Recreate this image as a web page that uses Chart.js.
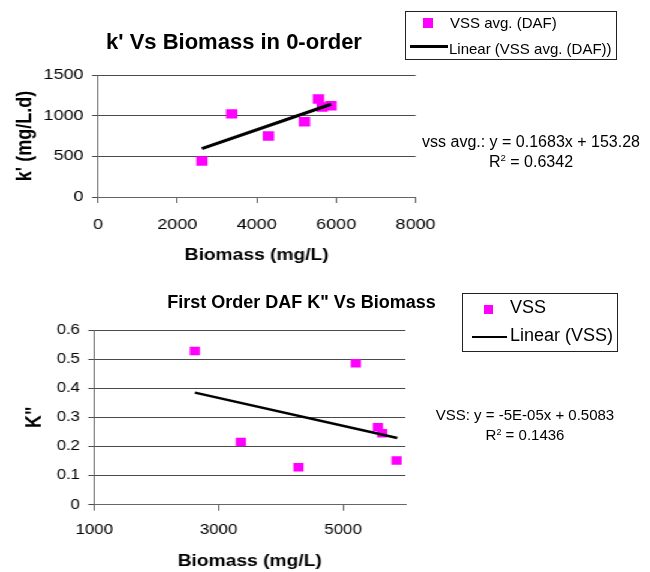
<!DOCTYPE html>
<html>
<head>
<meta charset="utf-8">
<script src="https://cdn.jsdelivr.net/npm/chart.js@4.4.1/dist/chart.umd.min.js"></script>
<style>
  html, body { margin: 0; padding: 0; background: #fff; }
  body { width: 650px; height: 572px; position: relative; overflow: hidden;
         font-family: "Liberation Sans", Arial, sans-serif; color: #000; }
  /* the original picture is stretched sideways, so the plots are drawn narrow and widened */
  #stretch { position: absolute; left: 0; top: 0; width: 542px; height: 572px;
             transform: scaleX(1.19926); transform-origin: 0 0; }
  .box { position: absolute; left: 0; width: 542px; }
  .t { position: absolute; white-space: nowrap; line-height: 1; }
  .c { transform: translateX(-50%); }
  .legend { position: absolute; border: 1px solid #222; box-sizing: border-box; }
  .mk { position: absolute; background: #ff00ff; }
  .ln { position: absolute; background: #000; }
  sup { font-size: 0.6em; line-height: 0; vertical-align: 0.6em; }
</style>
</head>
<body>
<div id="stretch">
  <div class="box" style="top:0;height:280px"><canvas id="c1"></canvas></div>
  <div class="box" style="top:280px;height:292px"><canvas id="c2"></canvas></div>
</div>

<div class="t c" id="title1" style="left:234px;top:30.7px;font-size:22px;font-weight:bold"></div>
<div class="legend" style="left:405px;top:11px;width:212px;height:49px"></div>
<div class="mk" style="left:423px;top:18px;width:10px;height:10px"></div>
<div class="t" id="leg1a" style="left:450px;top:15.3px;font-size:15px"></div>
<div class="ln" style="left:410px;top:44.5px;width:38px;height:3px"></div>
<div class="t" id="leg1b" style="left:449px;top:40.6px;font-size:15px"></div>
<div class="t c" id="eq1a" style="left:531px;top:133.5px;font-size:16px"></div>
<div class="t c" id="eq1b" style="left:531px;top:153.5px;font-size:16px"></div>

<div class="t c" id="title2" style="left:301.5px;top:293.1px;font-size:18px;font-weight:bold"></div>
<div class="legend" style="left:462px;top:293px;width:156px;height:59px"></div>
<div class="mk" style="left:484px;top:305px;width:9px;height:9px"></div>
<div class="t" id="leg2a" style="left:510px;top:298.1px;font-size:18px"></div>
<div class="ln" style="left:472px;top:335.5px;width:35px;height:2.5px"></div>
<div class="t" id="leg2b" style="left:510px;top:325.8px;font-size:18px"></div>
<div class="t c" id="eq2a" style="left:525px;top:406.6px;font-size:15px"></div>
<div class="t c" id="eq2b" style="left:525px;top:427.3px;font-size:15px"></div>

<script>
// ---- top chart: k' vs biomass (0-order) ----
const TITLE_1 = "k' Vs Biomass in 0-order";
const X_LABEL_1 = "Biomass (mg/L)";
const Y_LABEL_1 = "k' (mg/L.d)";
const SERIES_1 = "VSS avg. (DAF)";
const TREND_LABEL_1 = "Linear (VSS avg. (DAF))";
const EQ_1 = "vss avg.: y = 0.1683x + 153.28";
const R2_1 = "0.6342";
const biomass1 = [2620, 3370, 4294, 5202, 5555, 5650, 5870];
const kPrime1 = [443, 1022, 751, 924, 1205, 1106, 1122];
const trendX1 = [2620, 5870];
const trendY1 = [595, 1140];
const xTicks1 = [0, 2000, 4000, 6000, 8000];
const yTicks1 = [0, 500, 1000, 1500];

// ---- bottom chart: first order K" vs biomass ----
const TITLE_2 = 'First Order DAF K" Vs Biomass';
const X_LABEL_2 = "Biomass (mg/L)";
const Y_LABEL_2 = 'K"';
const SERIES_2 = "VSS";
const TREND_LABEL_2 = "Linear (VSS)";
const EQ_2 = "VSS: y = -5E-05x + 0.5083";
const R2_2 = "0.1436";
const biomass2 = [2618, 3357, 4283, 5204, 5558, 5627, 5858];
const kSecond2 = [0.528, 0.215, 0.129, 0.486, 0.266, 0.245, 0.152];
const trendX2 = [2620, 5870];
const trendY2 = [0.385, 0.229];
const xTicks2 = [1000, 3000, 5000];
const yTicks2 = [0, 0.1, 0.2, 0.3, 0.4, 0.5, 0.6];

const FONT = "'Liberation Sans', Arial, sans-serif";

function setText(id, s) { document.getElementById(id).textContent = s; }
function setR2(id, v) {
    const el = document.getElementById(id);
    el.innerHTML = "R<sup>2</sup> = ";
    el.appendChild(document.createTextNode(v));
}

setText("title1", TITLE_1);
setText("leg1a", SERIES_1);
setText("leg1b", TREND_LABEL_1);
setText("eq1a", EQ_1);
setR2("eq1b", R2_1);
setText("title2", TITLE_2);
setText("leg2a", SERIES_2);
setText("leg2b", TREND_LABEL_2);
setText("eq2a", EQ_2);
setR2("eq2b", R2_2);

function pts(xs, ys) {
    return xs.map((x, i) => ({ x: x, y: ys[i] }));
}

function fixedTicks(arr) {
    return function (scale) { scale.ticks = arr.map(v => ({ value: v })); };
}

function makeChart(canvas, g) {
    return new Chart(canvas.getContext("2d"), {
        type: "scatter",
        data: {
            datasets: [
                {
                    type: "line",
                    label: g.trendLabel,
                    data: pts(g.trendX, g.trendY),
                    showLine: true,
                    borderColor: "#000",
                    borderWidth: g.trendWidth,
                    pointRadius: 0,
                    tension: 0,
                    order: 0
                },
                {
                    label: g.series,
                    data: pts(g.xs, g.ys),
                    pointStyle: "rect",
                    pointRadius: g.pointR,
                    pointHoverRadius: g.pointR,
                    backgroundColor: "#ff00ff",
                    borderColor: "#ff00ff",
                    borderWidth: 0,
                    order: 1
                }
            ]
        },
        options: {
            responsive: true,
            maintainAspectRatio: false,
            animation: false,
            events: [],
            layout: { padding: g.pad },
            plugins: { legend: { display: false }, tooltip: { enabled: false }, title: { display: false } },
            scales: {
                x: {
                    type: "linear",
                    min: g.xMin, max: g.xMax,
                    afterBuildTicks: fixedTicks(g.xTicks),
                    afterFit: s => { s.height = g.xHeight; },
                    grid: { drawOnChartArea: false, drawTicks: true, tickLength: 6, color: "#555" },
                    border: { color: "#666", width: 1 },
                    ticks: {
                        padding: g.xTickPad,
                        color: "#000",
                        font: { family: FONT, size: g.tickSize },
                        callback: v => String(v)
                    },
                    title: {
                        display: true, text: g.xLabel, color: "#000",
                        padding: { top: 4, bottom: g.xTitleBottom },
                        font: { family: FONT, size: 16, weight: "bold" }
                    }
                },
                y: {
                    type: "linear",
                    min: g.yMin, max: g.yMax,
                    afterBuildTicks: fixedTicks(g.yTicks),
                    afterFit: s => { s.width = g.yWidth; },
                    grid: { color: "#4a4a4a", lineWidth: 1, tickLength: 5 },
                    border: { color: "#666", width: 1 },
                    ticks: {
                        padding: 7,
                        color: "#000",
                        font: { family: FONT, size: g.tickSize },
                        callback: v => String(v)
                    },
                    title: {
                        display: true, text: g.yLabel, color: "#000",
                        padding: { top: 4, bottom: 4 },
                        font: { family: FONT, size: g.yTitleSize, weight: "bold" }
                    }
                }
            }
        }
    });
}

makeChart(document.getElementById("c1"), {
    xs: biomass1, ys: kPrime1, trendX: trendX1, trendY: trendY1,
    series: SERIES_1, trendLabel: TREND_LABEL_1,
    xLabel: X_LABEL_1, yLabel: Y_LABEL_1,
    xMin: 0, xMax: 8000, yMin: 0, yMax: 1500,
    xTicks: xTicks1, yTicks: yTicks1,
    pad: { left: 6, right: 195.5, top: 75, bottom: 11 },
    yWidth: 75.7, xHeight: 72, xTickPad: 12.5, xTitleBottom: 4,
    tickSize: 15, pointR: 6.7, trendWidth: 3.2, yTitleSize: 18
});

makeChart(document.getElementById("c2"), {
    xs: biomass2, ys: kSecond2, trendX: trendX2, trendY: trendY2,
    series: SERIES_2, trendLabel: TREND_LABEL_2,
    xLabel: X_LABEL_2, yLabel: Y_LABEL_2,
    xMin: 1000, xMax: 6000, yMin: 0, yMax: 0.6,
    xTicks: xTicks2, yTicks: yTicks2,
    pad: { left: 14.4, right: 204, top: 50, bottom: 1 },
    yWidth: 64.2, xHeight: 66.3, xTickPad: 11, xTitleBottom: 0,
    tickSize: 14, pointR: 6, trendWidth: 2.5, yTitleSize: 18
});
</script>
</body>
</html>
